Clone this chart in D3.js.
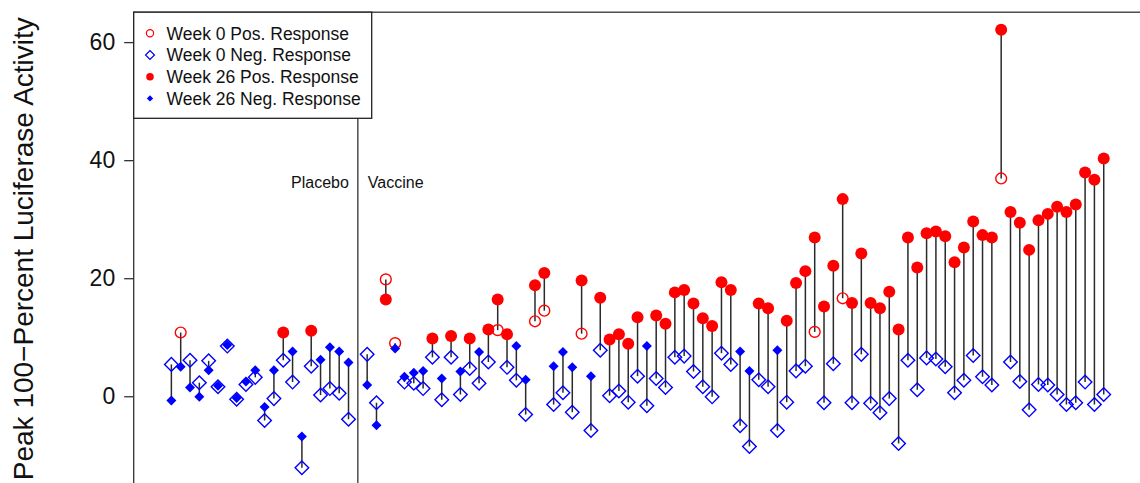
<!DOCTYPE html>
<html>
<head>
<meta charset="utf-8">
<script src="https://cdn.jsdelivr.net/npm/d3@7"></script>
<style>
  html, body { margin: 0; padding: 0; background: #fff; }
  svg { display: block; font-family: "Liberation Sans", Arial, Helvetica, sans-serif; }
</style>
</head>
<body>
<svg id="chart" width="1140" height="483"></svg>
<script>
// Peak 100-percent luciferase activity per subject, week 0 and week 26.
// First 20 subjects are placebo, the remaining 80 received vaccine.
const nPlacebo = 20;

const week0 = [
  5.4, 10.8, 6.1, 2.3, 6.0, 1.6, 8.5, -0.5, 2.0, 3.2,
  -4.1, -0.4, 6.1, 2.4, -12.1, 5.1, 0.2, 1.3, 0.5, -3.9,
  7.1, -1.1, 19.8, 9.0, 2.4, 2.2, 1.3, 6.6, -0.6, 6.6,
  0.3, 4.7, 2.2, 5.8, 11.2, 4.9, 2.7, -3.1, 12.7, 14.5,
  -1.4, 0.6, -2.7, 10.6, -5.8, 7.8, 0.1, 0.9, -1.0, 3.4,
  -1.6, 3.0, 1.5, 6.6, 6.8, 4.2, 1.6, -0.1, 7.3, 5.4,
  -5.0, -8.5, 2.8, 1.6, -5.8, -1.0, 4.3, 5.1, 10.9, -1.1,
  5.5, 16.6, -1.1, 7.1, -1.2, -2.8, -0.4, -8.0, 6.1, 1.1,
  6.5, 6.3, 5.0, 0.6, 2.7, 6.9, 3.3, 1.9, 36.9, 5.8,
  2.5, -2.3, 2.0, 1.9, 0.3, -1.4, -1.1, 2.4, -1.4, 0.3
];

const week26 = [
  -0.7, 5.0, 1.5, -0.1, 4.4, 1.8, 8.7, -0.3, 2.5, 4.4,
  -1.8, 4.4, 10.8, 7.6, -6.8, 11.1, 6.2, 8.3, 7.6, 5.7,
  1.9, -4.9, 16.4, 8.1, 3.3, 4.0, 4.3, 9.8, 3.0, 10.2,
  4.2, 9.8, 7.5, 11.3, 16.4, 10.5, 8.5, 2.8, 18.8, 20.9,
  5.1, 7.5, 4.9, 19.6, 3.4, 16.7, 9.6, 10.5, 8.9, 13.4,
  8.5, 13.7, 12.3, 17.6, 18.0, 15.7, 13.2, 11.9, 19.3, 18.0,
  7.6, 4.3, 15.7, 14.9, 7.8, 12.8, 19.2, 21.2, 26.9, 15.2,
  22.1, 33.4, 15.8, 24.2, 15.8, 14.9, 17.7, 11.3, 26.9, 21.8,
  27.6, 27.9, 27.1, 22.7, 25.2, 29.6, 27.3, 26.9, 62.1, 31.2,
  29.4, 24.8, 29.8, 30.9, 32.1, 31.2, 32.5, 37.9, 36.7, 40.3
];

// 1 = positive response, 0 = negative response
const week0Positive = [
  0, 1, 0, 0, 0, 0, 0, 0, 0, 0,
  0, 0, 0, 0, 0, 0, 0, 0, 0, 0,
  0, 0, 1, 1, 0, 0, 0, 0, 0, 0,
  0, 0, 0, 0, 1, 0, 0, 0, 1, 1,
  0, 0, 0, 1, 0, 0, 0, 0, 0, 0,
  0, 0, 0, 0, 0, 0, 0, 0, 0, 0,
  0, 0, 0, 0, 0, 0, 0, 0, 1, 0,
  0, 1, 0, 0, 0, 0, 0, 0, 0, 0,
  0, 0, 0, 0, 0, 0, 0, 0, 1, 0,
  0, 0, 0, 0, 0, 0, 0, 0, 0, 0
];

const week26Positive = [
  0, 0, 0, 0, 0, 0, 0, 0, 0, 0,
  0, 0, 1, 0, 0, 1, 0, 0, 0, 0,
  0, 0, 1, 0, 0, 0, 0, 1, 0, 1,
  0, 1, 0, 1, 1, 1, 0, 0, 1, 1,
  0, 0, 0, 1, 0, 1, 1, 1, 1, 1,
  0, 1, 1, 1, 1, 1, 1, 1, 1, 1,
  0, 0, 1, 1, 0, 1, 1, 1, 1, 1,
  1, 1, 1, 1, 1, 1, 1, 1, 1, 1,
  1, 1, 1, 1, 1, 1, 1, 1, 1, 1,
  1, 1, 1, 1, 1, 1, 1, 1, 1, 1
];

const yTicks = [0, 20, 40, 60];
const groupLabels = ["Placebo", "Vaccine"];
const legendLabels = [
  "Week 0 Pos. Response",
  "Week 0 Neg. Response",
  "Week 26 Pos. Response",
  "Week 26 Neg. Response"
];
const yTitle = "Peak 100\u2212Percent Luciferase Activity";

const RED = "#ff0000";
const BLUE = "#0000ff";

// One row per subject; vaccine subjects sit one slot to the right of the divider.
const subjects = week0.map((v, i) => ({
  pos: i < nPlacebo ? i + 1 : i + 2,
  w0: v,
  w26: week26[i],
  p0: week0Positive[i] === 1,
  p26: week26Positive[i] === 1
}));

const nSlots = subjects.length + 1;
const padX = nSlots * 0.04;
const allVals = week0.concat(week26);
const yMin = d3.min(allVals), yMax = d3.max(allVals);
const padY = (yMax - yMin) * 0.04;

const x = d3.scaleLinear().domain([1 - padX, nSlots + padX]).range([133.7, 1141.4]);
const y = d3.scaleLinear().domain([yMin - padY, yMax + padY]).range([485.2, 12.2]);

const svg = d3.select("#chart");

// vertical segments joining week 0 and week 26
svg.append("g")
  .selectAll("line")
  .data(subjects)
  .join("line")
  .attr("x1", d => x(d.pos)).attr("x2", d => x(d.pos))
  .attr("y1", d => y(d.w0)).attr("y2", d => y(d.w26))
  .attr("stroke", "#2a2a2a")
  .attr("stroke-width", 1.5);

const openDiamond = d3.symbol(d3.symbolSquare, 92)();
const solidDiamond = d3.symbol(d3.symbolSquare, 50)();

// week 0 markers (open)
const g0 = svg.append("g");
g0.selectAll("circle")
  .data(subjects.filter(d => d.p0))
  .join("circle")
  .attr("cx", d => x(d.pos)).attr("cy", d => y(d.w0))
  .attr("r", 5.4)
  .attr("fill", "none").attr("stroke", RED).attr("stroke-width", 1.4);
g0.selectAll("path")
  .data(subjects.filter(d => !d.p0))
  .join("path")
  .attr("d", openDiamond)
  .attr("transform", d => `translate(${x(d.pos)},${y(d.w0)}) rotate(45)`)
  .attr("fill", "none").attr("stroke", BLUE).attr("stroke-width", 1.4);

// week 26 markers (filled)
const g26 = svg.append("g");
g26.selectAll("circle")
  .data(subjects.filter(d => d.p26))
  .join("circle")
  .attr("cx", d => x(d.pos)).attr("cy", d => y(d.w26))
  .attr("r", 6)
  .attr("fill", RED);
g26.selectAll("path")
  .data(subjects.filter(d => !d.p26))
  .join("path")
  .attr("d", solidDiamond)
  .attr("transform", d => `translate(${x(d.pos)},${y(d.w26)}) rotate(45)`)
  .attr("fill", BLUE);

// divider between placebo and vaccine groups
const divX = x(nPlacebo + 1);
svg.append("line")
  .attr("x1", divX).attr("x2", divX)
  .attr("y1", y.range()[1]).attr("y2", y.range()[0])
  .attr("stroke", "#333").attr("stroke-width", 1.3);

svg.append("text")
  .attr("x", divX - 9).attr("y", 188)
  .attr("text-anchor", "end")
  .attr("font-size", 16).attr("fill", "#111")
  .text(groupLabels[0]);
svg.append("text")
  .attr("x", divX + 10).attr("y", 188)
  .attr("text-anchor", "start")
  .attr("font-size", 16).attr("fill", "#111")
  .text(groupLabels[1]);

// plot frame
svg.append("rect")
  .attr("x", x.range()[0]).attr("y", y.range()[1])
  .attr("width", x.range()[1] - x.range()[0])
  .attr("height", y.range()[0] - y.range()[1])
  .attr("fill", "none").attr("stroke", "#333").attr("stroke-width", 1.3);

// y axis
const yAxis = svg.append("g")
  .attr("transform", `translate(${x.range()[0]},0)`)
  .call(d3.axisLeft(y).tickValues(yTicks).tickSize(9.5).tickPadding(9));
yAxis.select(".domain").remove();
yAxis.selectAll(".tick line").attr("stroke", "#333").attr("stroke-width", 1.3);
yAxis.selectAll(".tick text")
  .attr("font-size", 23)
  .attr("font-family", "'Liberation Sans', Arial, sans-serif")
  .attr("fill", "#111");

svg.append("text")
  .attr("transform", `translate(33,${(y.range()[0] + y.range()[1]) / 2}) rotate(-90)`)
  .attr("text-anchor", "middle")
  .attr("font-size", 28)
  .attr("fill", "#111")
  .text(yTitle);

// legend
const lg = svg.append("g");
lg.append("rect")
  .attr("x", x.range()[0]).attr("y", y.range()[1])
  .attr("width", 371.7 - x.range()[0]).attr("height", 118.3 - y.range()[1])
  .attr("fill", "#fff").attr("stroke", "#222").attr("stroke-width", 1.3);

const rowY = i => 33.3 + i * 21.7;
const symX = 150;
legendLabels.forEach((lab, i) => {
  const cy = rowY(i);
  if (i === 0) {
    lg.append("circle").attr("cx", symX).attr("cy", cy).attr("r", 3.6)
      .attr("fill", "none").attr("stroke", RED).attr("stroke-width", 1.2);
  } else if (i === 1) {
    lg.append("path").attr("d", d3.symbol(d3.symbolSquare, 40)())
      .attr("transform", `translate(${symX},${cy}) rotate(45)`)
      .attr("fill", "none").attr("stroke", BLUE).attr("stroke-width", 1.2);
  } else if (i === 2) {
    lg.append("circle").attr("cx", symX).attr("cy", cy).attr("r", 3.8).attr("fill", RED);
  } else {
    lg.append("path").attr("d", d3.symbol(d3.symbolSquare, 20)())
      .attr("transform", `translate(${symX},${cy}) rotate(45)`)
      .attr("fill", BLUE);
  }
  lg.append("text")
    .attr("x", 166.5).attr("y", cy + 6.2)
    .attr("font-size", 17.5).attr("fill", "#111")
    .text(lab);
});
</script>
</body>
</html>
